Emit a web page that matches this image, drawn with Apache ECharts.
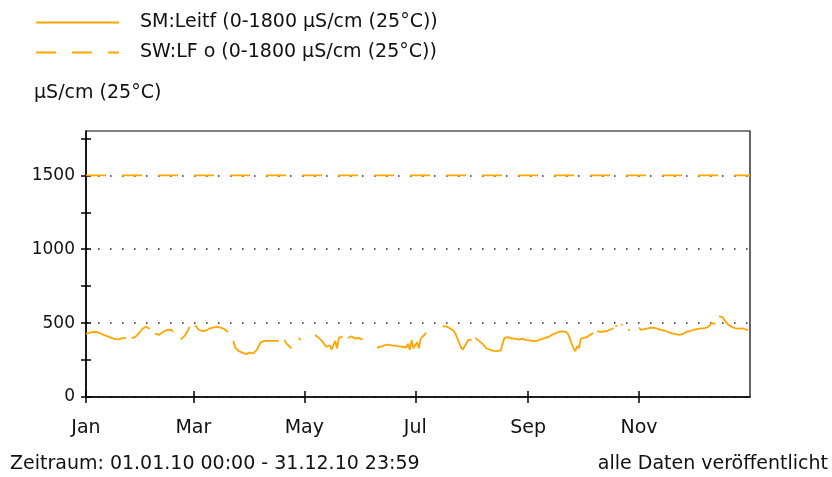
<!DOCTYPE html>
<html>
<head>
<meta charset="utf-8">
<script src="https://cdn.jsdelivr.net/npm/echarts@6/dist/echarts.min.js"></script>
<style>
html,body{margin:0;padding:0;background:#fff;}
#c{width:832px;height:477px;}
</style>
</head>
<body>
<div id="c"></div>
<script>
// ---- data ----
const seriesNames = ['SM:Leitf (0-1800 µS/cm (25°C))', 'SW:LF o (0-1800 µS/cm (25°C))'];
const monthStarts = [0, 59, 120, 181, 243, 304];
const monthLabels = ['Jan', 'Mar', 'May', 'Jul', 'Sep', 'Nov'];
const yMinorTicks = [0, 250, 500, 750, 1000, 1250, 1500, 1750];
const limitValue = 1500;
// day of year (0 = 1 Jan 2010) and conductivity, null = gap
const days = [0,2,4,6,8,10,12,14,16,18,20,22,23,25,27,29,31,33,35,36.5,38,40,41,43,45,47,48,50,52,54,56,57,58.5,60,62,64,66,68,70,72,74,76,78,79.5,81,82,84,86,88,90,92,94,96,98,100,102,104,106,107.5,109,110,112,113,115,117,118,120,126,128,130,132,134,135,137,138,139,141,142.5,144,146,148,150,152,155,160,162,164,166,168,170,172,174,176,177,178,179,180,182,183,184,186,187,190,196,198,200,202,203,204,205,206,207,208,209,210,212,213,214,216,218,219,220,222,224,226,228,229,230,232,234,236,238,240,242,244,246,248,250,252,254,256,258,260,262,264,265,266,267,268,269,270,271,272,274,276,278,279,280,281,283,284,286,288,290,290.5,291,292,292.5,294,295,295.5,298,299,300,304,305,306,307,308,310,312,314,316,318,320,322,324,326,327,328,330,332,334,336,338,340,342,344,345,346,347,348,350,351,353,355,357,359,361,363,364];
const conductivity = [427,435,440,440,430,418,410,400,392,390,398,400,null,398,405,430,462,475,462,null,430,420,410,445,455,455,440,null,390,410,450,475,null,485,455,445,450,465,470,475,470,460,440,null,380,335,310,300,290,300,295,320,370,380,380,380,380,380,null,385,365,340,330,null,400,385,null,420,400,375,340,350,320,380,330,400,410,null,400,410,395,400,388,null,335,340,350,355,350,348,342,340,335,360,320,385,330,370,330,395,420,435,null,478,478,465,450,430,400,370,340,320,330,360,385,388,null,400,380,360,345,330,320,312,310,315,360,400,405,395,395,388,395,385,383,378,382,390,398,405,420,430,440,444,440,425,395,360,330,310,345,330,395,400,410,428,430,null,445,440,430,445,455,465,null,478,483,null,490,488,null,455,455,null,470,455,450,460,470,468,470,462,455,450,440,430,425,420,408,425,440,445,455,460,465,465,475,500,512,495,null,546,540,520,490,475,465,462,465,455,455];

const orange = '#FFA500';
const font = 'DejaVu Sans';
const textColor = '#111';
const mainData = days.map((d, i) => [d, conductivity[i] === null ? '-' : conductivity[i]]);
const limitData = [[0, limitValue], [365, limitValue]];

const tickAxisY = (inside) => ({
  type: 'value', min: 0, max: 1800, position: 'left', offset: 0,
  axisLine: {show: false},
  axisTick: {show: true, inside: inside, length: 5, customValues: yMinorTicks, lineStyle: {color: '#000', width: 1.5}},
  axisLabel: {show: false},
  splitLine: {show: false}
});
const tickAxisX = (inside) => ({
  type: 'value', min: 0, max: 365, position: 'bottom', offset: 0,
  axisLine: {show: false},
  axisTick: {show: true, inside: inside, length: 6, customValues: monthStarts, lineStyle: {color: '#000', width: 1.5}},
  axisLabel: {show: false},
  splitLine: {show: false}
});

const chart = echarts.init(document.getElementById('c'), null, {renderer: 'canvas'});
chart.setOption({
  animation: false,
  backgroundColor: '#fff',
  textStyle: {fontFamily: font, color: textColor},
  grid: {left: 86, right: 82, top: 131, bottom: 80, show: true, borderColor: '#000', borderWidth: 1.2, backgroundColor: 'transparent'},
  legend: {
    orient: 'vertical', left: 30, top: 8, itemGap: 11,
    itemWidth: 83, itemHeight: 21,
    itemStyle: {opacity: 0},
    textStyle: {fontFamily: font, fontSize: 19, color: textColor, padding: [0, 0, 0, 16]},
    data: [seriesNames[0], seriesNames[1]]
  },
  graphic: [
    {type: 'text', left: 34, top: 84, style: {text: 'µS/cm (25°C)', fontFamily: font, fontSize: 19, fill: textColor}},
    {type: 'text', left: 10, top: 455, style: {text: 'Zeitraum: 01.01.10 00:00 - 31.12.10 23:59', fontFamily: font, fontSize: 19, fill: textColor}},
    {type: 'text', right: 4, top: 455, style: {text: 'alle Daten veröffentlicht', fontFamily: font, fontSize: 19, fill: textColor}}
  ],
  xAxis: [
    {
      type: 'value', min: 0, max: 365, position: 'bottom',
      axisLine: {show: true, lineStyle: {color: '#000', width: 1.5}},
      axisTick: {show: false},
      axisLabel: {show: true, margin: 22, customValues: monthStarts, fontFamily: font, fontSize: 19, color: textColor,
        formatter: v => { const i = monthStarts.indexOf(Math.round(v)); return i >= 0 ? monthLabels[i] : ''; }},
      splitLine: {show: false}
    },
    tickAxisX(false),
    tickAxisX(true)
  ],
  yAxis: [
    {
      type: 'value', min: 0, max: 1800, interval: 500, position: 'left',
      axisLine: {show: true, lineStyle: {color: '#000', width: 1.5}},
      axisTick: {show: false},
      axisLabel: {show: true, margin: 11, showMaxLabel: false, fontFamily: font, fontSize: 17, color: textColor,
        formatter: v => (v % 500 === 0 ? String(v) : '')},
      splitLine: {show: true, showMaxLine: false, lineStyle: {color: '#222', width: 1.5, type: [1.5, 10.5]}}
    },
    tickAxisY(false),
    tickAxisY(true)
  ],
  series: [
    {
      name: seriesNames[0], type: 'line', xAxisIndex: 0, yAxisIndex: 0,
      data: mainData, symbol: 'none', showSymbol: false, connectNulls: false,
      lineStyle: {color: orange, width: 1.8}, itemStyle: {color: orange}
    },
    {
      name: seriesNames[1], type: 'line', xAxisIndex: 0, yAxisIndex: 0,
      data: limitData, symbol: 'none', showSymbol: false,
      lineStyle: {color: orange, width: 1.8, type: [20, 16]}, itemStyle: {color: orange}
    }
  ]
});
</script>
</body>
</html>
